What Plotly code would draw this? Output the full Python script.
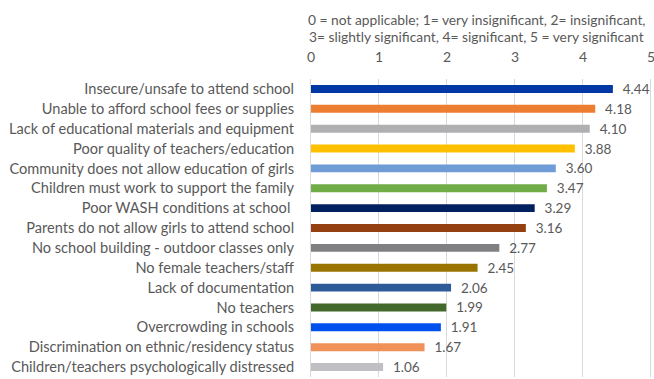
import plotly.graph_objects as go

# barriers to education, mean rating (0-5)
categories = [
    "Insecure/unsafe to attend school",
    "Unable to afford school fees or supplies",
    "Lack of educational materials and equipment",
    "Poor quality of teachers/education",
    "Community does not allow education of girls",
    "Children must work to support the family",
    "Poor WASH conditions at school ",
    "Parents do not allow girls to attend school",
    "No school building - outdoor classes only",
    "No female teachers/staff",
    "Lack of documentation",
    "No teachers",
    "Overcrowding in schools",
    "Discrimination on ethnic/residency status",
    "Children/teachers psychologically distressed",
]
values = [4.44, 4.18, 4.10, 3.88, 3.60, 3.47, 3.29, 3.16, 2.77, 2.45, 2.06, 1.99, 1.91, 1.67, 1.06]
bar_colors = [
    "#0039a6", "#ed7d31", "#b0b0b3", "#ffc000", "#6f9bd6",
    "#70ad47", "#002060", "#954010", "#808083", "#9a7400",
    "#2c5b97", "#43682b", "#0050ef", "#f1915a", "#c0c0c4",
]
x_ticks = [0, 1, 2, 3, 4, 5]
note_lines = [
    "0 = not applicable; 1= very insignificant, 2= insignificant,",
    "3= slightly significant, 4= significant, 5 = very significant",
]

FONT = "Lato"
GREY = "#595959"

fig = go.Figure()
fig.add_trace(
    go.Bar(
        x=values,
        y=categories,
        orientation="h",
        width=0.4,
        marker=dict(color=bar_colors, line=dict(width=0)),
        text=[f"{v:.2f}" for v in values],
        texttemplate="  %{text}",
        textposition="outside",
        constraintext="none",
        cliponaxis=False,
        textfont=dict(family=FONT, size=13.5, color=GREY),
        showlegend=False,
    )
)

# scale note above the axis, one annotation per line
for line, ypos in zip(note_lines, [1.198, 1.141]):
    fig.add_annotation(
        text=line,
        xref="paper", yref="paper",
        x=0.484, y=ypos,
        xanchor="center", yanchor="middle",
        showarrow=False,
        font=dict(family=FONT, size=13.8, color=GREY),
    )

# range runs a hair past 5 so the "5" tick label is kept
fig.update_layout(
    width=654,
    height=379,
    margin=dict(l=311, r=1, t=79, b=2),
    paper_bgcolor="white",
    plot_bgcolor="white",
    font=dict(family=FONT, size=14.6, color=GREY),
    bargap=0.6,
    xaxis=dict(
        side="top",
        range=[0, 5.03],
        tickvals=x_ticks,
        showgrid=True,
        gridcolor="#d9d9d9",
        zeroline=False,
        ticks="",
        automargin=False,
        ticklabeloverflow="allow",
        ticklabelstandoff=13,
        tickfont=dict(family=FONT, size=14, color=GREY),
    ),
    yaxis=dict(
        autorange="reversed",
        showline=True,
        linecolor="#d9d9d9",
        ticks="",
        automargin=False,
        ticklabelstandoff=13,
        tickfont=dict(family=FONT, size=14.6, color=GREY),
    ),
)

# drop the default page margin so the figure fills the window exactly
fig.write_html(
    "out.html",
    config={"displayModeBar": False},
    post_script="document.body.style.margin='0';document.body.style.overflow='hidden';",
)
